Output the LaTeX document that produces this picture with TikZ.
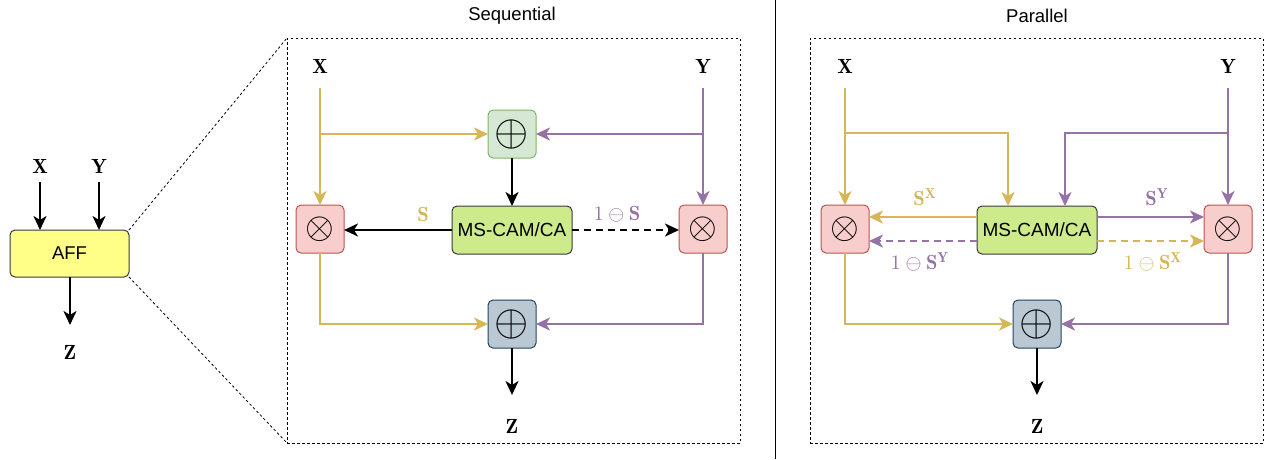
\documentclass[tikz,border=0pt]{standalone}
\usepackage{fontspec}
\usepackage{graphicx}
\newfontfamily\hv{Liberation Sans}
\usetikzlibrary{arrows.meta}
\definecolor{yel}{HTML}{D6B656}
\definecolor{pur}{HTML}{9673A6}
\definecolor{grfill}{HTML}{D5E8D4}
\definecolor{grdraw}{HTML}{82B366}
\definecolor{rdfill}{HTML}{F8CECC}
\definecolor{rddraw}{HTML}{B85450}
\definecolor{blfill}{HTML}{BAC8D3}
\definecolor{bldraw}{HTML}{23445D}
\definecolor{lmfill}{HTML}{CDEB8B}
\definecolor{dkdraw}{HTML}{36393D}
\definecolor{yefill}{HTML}{FFFF88}
\newcommand{\mylbl}[1]{\scalebox{2.05}{$#1$}}
\newcommand{\myplus}{\scalebox{4.4}{$\oplus$}}
\newcommand{\mytimes}{\scalebox{3.7}{$\otimes$}}
\begin{document}
\begin{tikzpicture}[x=1pt,y=-1pt,
  conn/.style={line width=2.2pt, -{Stealth[length=14pt,width=13pt,inset=4pt]}},
  yl/.style={conn, draw=yel},
  pl/.style={conn, draw=pur},
  bl/.style={conn, draw=black},
  dsh/.style={dash pattern=on 7pt off 5pt},
  opbox/.style={draw, rounded corners=5pt, line width=1pt, minimum width=48pt, minimum height=48pt, inner sep=0pt, outer sep=0pt},
  plusg/.style={opbox, fill=grfill, draw=grdraw},
  plusb/.style={opbox, fill=blfill, draw=bldraw},
  mult/.style={opbox, fill=rdfill, draw=rddraw},
  mscam/.style={draw=dkdraw, fill=lmfill, rounded corners=5pt, line width=1pt, minimum width=120pt, minimum height=48pt, inner sep=0pt, outer sep=0pt, font=\hv\fontsize{19}{22}\selectfont},
  affbox/.style={draw=dkdraw, fill=yefill, rounded corners=5pt, line width=1pt, minimum width=119pt, minimum height=47pt, inner sep=0pt, outer sep=0pt, font=\hv\fontsize{18.5}{22}\selectfont},
  frame/.style={draw, line width=1pt, dash pattern=on 2.5pt off 2.5pt, inner sep=0pt, outer sep=0pt, minimum width=453pt, minimum height=405pt},
  zoomline/.style={draw, line width=0.8pt, dash pattern=on 2.5pt off 2.5pt},
  title/.style={font=\hv\fontsize{18.5}{22}\selectfont},
  lbl/.style={inner sep=1pt}
]
\useasboundingbox (0,0) rectangle (1269,459);

% ---------- left: AFF ----------
\node[affbox] (aff) at (69.5,253.5) {AFF};
\node[lbl] (lx) at (40,166) {\mylbl{\mathbf{X}}};
\node[lbl] (ly) at (99,166) {\mylbl{\mathbf{Y}}};
\node[lbl] (lz) at (70,352) {\mylbl{\mathbf{Z}}};
\coordinate (lxs) at (40,182);
\coordinate (lys) at (99,182);
\coordinate (lze) at (70,325);
\draw[bl] (lxs) -- (lxs |- aff.north);
\draw[bl] (lys) -- (lys |- aff.north);
\draw[bl] (lze |- aff.south) -- (lze);

% ---------- frames ----------
\node[frame] (seq) at (513.5,240.5) {};
\node[frame] (par) at (1036.5,240.5) {};
\node[title] (seqt) at (512,16) {Sequential};
\node[title] (part) at (1037,16) {Parallel};
\draw[zoomline] (aff.north east) -- (seq.north west);
\draw[zoomline] (aff.south east) -- (seq.south west);
\coordinate (sepa) at (775,0);
\coordinate (sepb) at (775,459);
\draw[line width=1pt] (sepa) -- (sepb);

% ---------- sequential ----------
\node[lbl] (sx) at (320,66) {\mylbl{\mathbf{X}}};
\node[lbl] (sy) at (703,66) {\mylbl{\mathbf{Y}}};
\node[lbl] (sz) at (512,426) {\mylbl{\mathbf{Z}}};
\coordinate (sxs) at (320,88);
\coordinate (sys) at (703,88);
\coordinate (sze) at (512,395);
\node[plusg] (pt) at (512,134) {\myplus};
\node[mult] (ml) at (320,229) {\mytimes};
\node[mult] (mr) at (703,229) {\mytimes};
\node[mscam] (ms) at (512,230) {MS-CAM/CA};
\node[plusb] (pb) at (512,324) {\myplus};

\draw[yl] (sxs) -- (ml.north);
\draw[yl] (sxs |- pt.west) -- (pt.west);
\draw[pl] (sys) -- (mr.north);
\draw[pl] (sys |- pt.east) -- (pt.east);
\draw[bl] (pt.south) -- (ms.north);
\draw[bl] (ms.west) -- (ms.west -| ml.east);
\draw[bl, dsh] (ms.east) -- (ms.east -| mr.west);
\draw[yl] (ml.south) |- (pb.west);
\draw[pl] (mr.south) |- (pb.east);
\draw[bl] (pb.south) -- (sze);
\node[lbl, text=yel] (ls) at (423,214) {\mylbl{\mathbf{S}}};
\node[lbl, text=pur] (lis) at (617,214) {\mylbl{1\ominus\mathbf{S}}};

% ---------- parallel ----------
\node[lbl] (px) at (845,66) {\mylbl{\mathbf{X}}};
\node[lbl] (py) at (1228,66) {\mylbl{\mathbf{Y}}};
\node[lbl] (pz) at (1037,426) {\mylbl{\mathbf{Z}}};
\coordinate (pxs) at (845,88);
\coordinate (pys) at (1228,88);
\coordinate (pze) at (1037,395);
\coordinate (pxb) at (845,133);
\coordinate (pyb) at (1228,133);
\node[mult] (ml2) at (845,229) {\mytimes};
\node[mult] (mr2) at (1228,229) {\mytimes};
\node[mscam] (ms2) at (1037,230) {MS-CAM/CA};
\node[plusb] (pb2) at (1037,324) {\myplus};
\coordinate (msyin) at ([xshift=-29pt]ms2.north);
\coordinate (mspin) at ([xshift=28pt]ms2.north);
\coordinate (mlA) at ([yshift=13pt]ms2.west);
\coordinate (mlB) at ([yshift=-11pt]ms2.west);
\coordinate (mrA) at ([yshift=13pt]ms2.east);
\coordinate (mrB) at ([yshift=-11pt]ms2.east);

\draw[yl] (pxs) -- (ml2.north);
\draw[yl] (pxb) -| (msyin);
\draw[pl] (pys) -- (mr2.north);
\draw[pl] (pyb) -| (mspin);
\draw[yl] (mlA) -- (mlA -| ml2.east);
\draw[pl, dsh] (mlB) -- (mlB -| ml2.east);
\draw[pl] (mrA) -- (mrA -| mr2.west);
\draw[yl, dsh] (mrB) -- (mrB -| mr2.west);
\draw[yl] (ml2.south) |- (pb2.west);
\draw[pl] (mr2.south) |- (pb2.east);
\draw[bl] (pb2.south) -- (pze);
\node[lbl, text=yel] (lsx) at (925,197) {\mylbl{\mathbf{S}^{\mathbf{X}}}};
\node[lbl, text=pur] (lisy) at (920,262) {\mylbl{1\ominus\mathbf{S}^{\mathbf{Y}}}};
\node[lbl, text=pur] (lsy) at (1157,197) {\mylbl{\mathbf{S}^{\mathbf{Y}}}};
\node[lbl, text=yel] (lisx) at (1153,262) {\mylbl{1\ominus\mathbf{S}^{\mathbf{X}}}};
\end{tikzpicture}
\end{document}
